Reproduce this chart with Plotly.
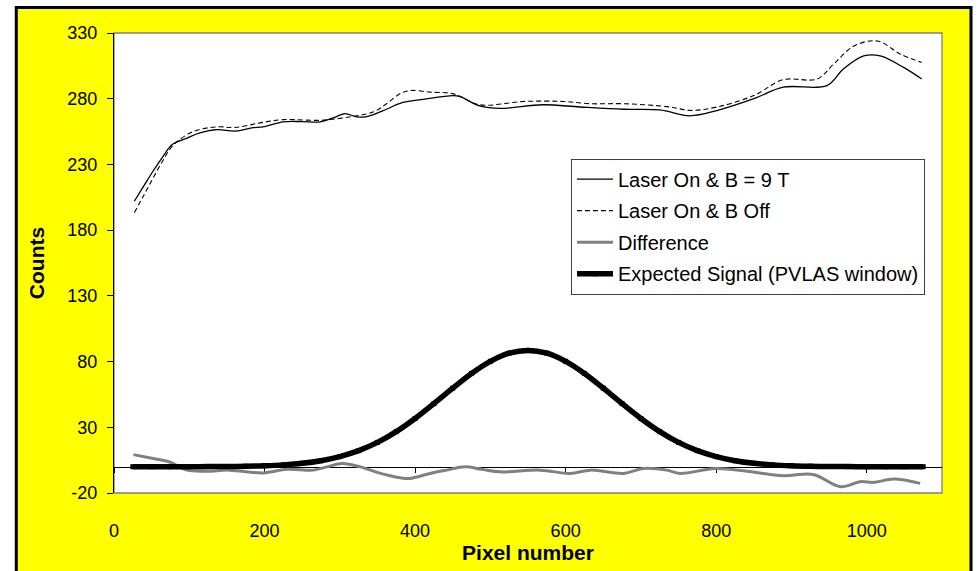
import plotly.graph_objects as go

# ---- data ----
b9_x = [27, 40, 52, 65, 77, 97, 114, 137, 161, 185, 198, 225, 250, 274, 291, 307, 322, 336, 362, 380,
        411, 451, 460, 486, 513, 570, 619, 677, 725, 765, 801, 850, 889, 947, 969, 996, 1018, 1049, 1073]
b9_y = [202, 214, 225, 236, 245, 250, 254, 256.5, 255.3, 258, 258.6, 262.4, 262.6, 262.4, 265.4, 268.7,
        266.2, 266.4, 272, 276.5, 279.5, 282.4, 281.5, 274.5, 272.6, 275.4, 273.7, 272, 271.5, 267, 271,
        280, 288.8, 290, 302.6, 312.6, 312.6, 303.8, 295]

boff_x = [27, 40, 52, 65, 79, 105, 137, 161, 194, 225, 274, 318, 345, 362, 380, 393, 420, 451, 486, 544,
          597, 633, 677, 739, 765, 801, 850, 889, 934, 956, 983, 1014, 1045, 1073]
boff_y = [193.3, 207, 219.7, 233, 244.8, 254.9, 258.6, 258.1, 261.6, 264.1, 263.6, 266.6, 270, 276.2,
          283.7, 286.2, 285, 283.7, 275.4, 277.9, 277.9, 276.2, 276.2, 273.7, 271.1, 273.7, 282.4, 294.5,
          295, 306.3, 320.1, 323.9, 313.9, 307.6]

diff_x = [26, 52, 74, 97, 123, 153, 198, 230, 265, 283, 303, 327, 354, 367, 380, 393, 420, 442, 466, 488,
          513, 566, 606, 633, 677, 703, 734, 752, 799, 841, 889, 929, 965, 991, 1009, 1036, 1071]
diff_y = [9.2, 6.2, 3.6, -2.6, -3.4, -2.6, -4.7, -1.9, -2.6, -0.1, 2.4, -0.1, -5.1, -6.9, -8.4, -8.9, -5.1,
          -2.6, -0.1, -1.9, -3.9, -2.6, -5.1, -2.6, -5.1, -1.4, -2.6, -5.1, -1.4, -3.4, -6.9, -5.9, -15.2,
          -11.4, -11.9, -9.4, -12.7]

sig_x = [25, 50, 75, 100, 125, 150, 175, 200, 225, 250, 275, 300, 325, 350, 375, 400, 425, 450, 475, 500,
         525, 550, 575, 600, 625, 650, 675, 700, 725, 750, 775, 800, 825, 850, 875, 900, 925, 950, 975,
         1000, 1025, 1050, 1075]
sig_y = [0.0, 0.0, 0.01, 0.03, 0.08, 0.17, 0.36, 0.73, 1.4, 2.6, 4.6, 7.7, 12.2, 18.5, 26.7, 36.7, 48.0,
         59.8, 71.0, 80.2, 86.4, 88.5, 86.4, 80.2, 71.0, 59.8, 48.0, 36.7, 26.7, 18.5, 12.2, 7.7, 4.6, 2.6,
         1.4, 0.73, 0.36, 0.17, 0.08, 0.03, 0.01, 0.0, 0.0]

x_ticks = [0, 200, 400, 600, 800, 1000]
y_ticks = [-20, 30, 80, 130, 180, 230, 280, 330]
x_range = [0, 1100]
y_range = [-20, 330]

FONT = "Liberation Sans, Arial, sans-serif"

W, H = 979, 571
ML, MR, MT, MB = 114, 37, 33, 73
PW, PH = W - ML - MR, H - MT - MB


def px_x(p):
    return (p - ML) / PW


def px_y(p):
    return (H - MB - p) / PH


fig = go.Figure()

fig.add_trace(go.Scatter(x=b9_x, y=b9_y, mode="lines", name="Laser On & B = 9 T",
                         legendgroup="a", line=dict(color="black", width=1.3, shape="spline")))
fig.add_trace(go.Scatter(x=boff_x, y=boff_y, mode="lines", name="Laser On & B Off",
                         legendgroup="b", line=dict(color="black", width=1.1, dash="5px,3px", shape="spline")))
fig.add_trace(go.Scatter(x=diff_x, y=diff_y, mode="lines", name="Difference",
                         legendgroup="c", line=dict(color="#808080", width=3, shape="spline")))
fig.add_trace(go.Scatter(x=sig_x, y=sig_y, mode="lines+markers", name="Expected Signal (PVLAS window)",
                         legendgroup="d", xaxis="x2",
                         line=dict(color="black", width=5.5, shape="spline"),
                         marker=dict(symbol="square", size=5, color="black")))

# outer yellow chart area with black border, and white plot area with grey border
fig.add_shape(type="rect", xref="paper", yref="paper", layer="below",
              x0=px_x(16.3), x1=px_x(971), y0=px_y(600), y1=px_y(7.3),
              fillcolor="#FFFF00", line=dict(color="black", width=3))
fig.add_shape(type="rect", xref="paper", yref="paper", layer="below",
              x0=0, x1=1, y0=0, y1=1,
              fillcolor="white", line=dict(color="#808080", width=1.3))

fig.update_layout(
    width=W, height=H,
    margin=dict(l=ML, r=MR, t=MT, b=MB),
    paper_bgcolor="white",
    plot_bgcolor="rgba(0,0,0,0)",
    font=dict(family=FONT, color="black", size=18),
    showlegend=True,
    legend=dict(
        x=px_x(571), y=px_y(160), xanchor="left", yanchor="top",
        bgcolor="white", bordercolor="#404040", borderwidth=1,
        font=dict(family=FONT, size=20, color="black"),
        itemwidth=36, tracegroupgap=2.5,
    ),
    xaxis=dict(
        range=x_range, tickvals=x_ticks, ticktext=[str(v) for v in x_ticks],
        showgrid=False, zeroline=False, showline=False, ticks="",
        tickfont=dict(family=FONT, size=18), ticklabelstandoff=25,
        title=dict(text="<b>Pixel number</b>", font=dict(family=FONT, size=21), standoff=3),
    ),
    xaxis2=dict(
        range=x_range, tickvals=x_ticks, overlaying="x", anchor="free",
        position=(0 - y_range[0]) / (y_range[1] - y_range[0]), side="bottom",
        showgrid=False, zeroline=False, showline=True, linecolor="black", linewidth=1,
        ticks="outside", ticklen=5, tickcolor="black", tickwidth=1,
        showticklabels=False, layer="below traces",
    ),
    yaxis=dict(
        range=y_range, tickvals=y_ticks, ticktext=[str(v) for v in y_ticks],
        showgrid=False, zeroline=False, showline=True, linecolor="black", linewidth=1.3,
        ticks="outside", ticklen=6, tickcolor="black", tickwidth=1,
        tickfont=dict(family=FONT, size=18), ticklabelstandoff=6,
        title=dict(text="<b>Counts</b>", font=dict(family=FONT, size=21), standoff=16),
    ),
)

fig.write_html("out.html")
